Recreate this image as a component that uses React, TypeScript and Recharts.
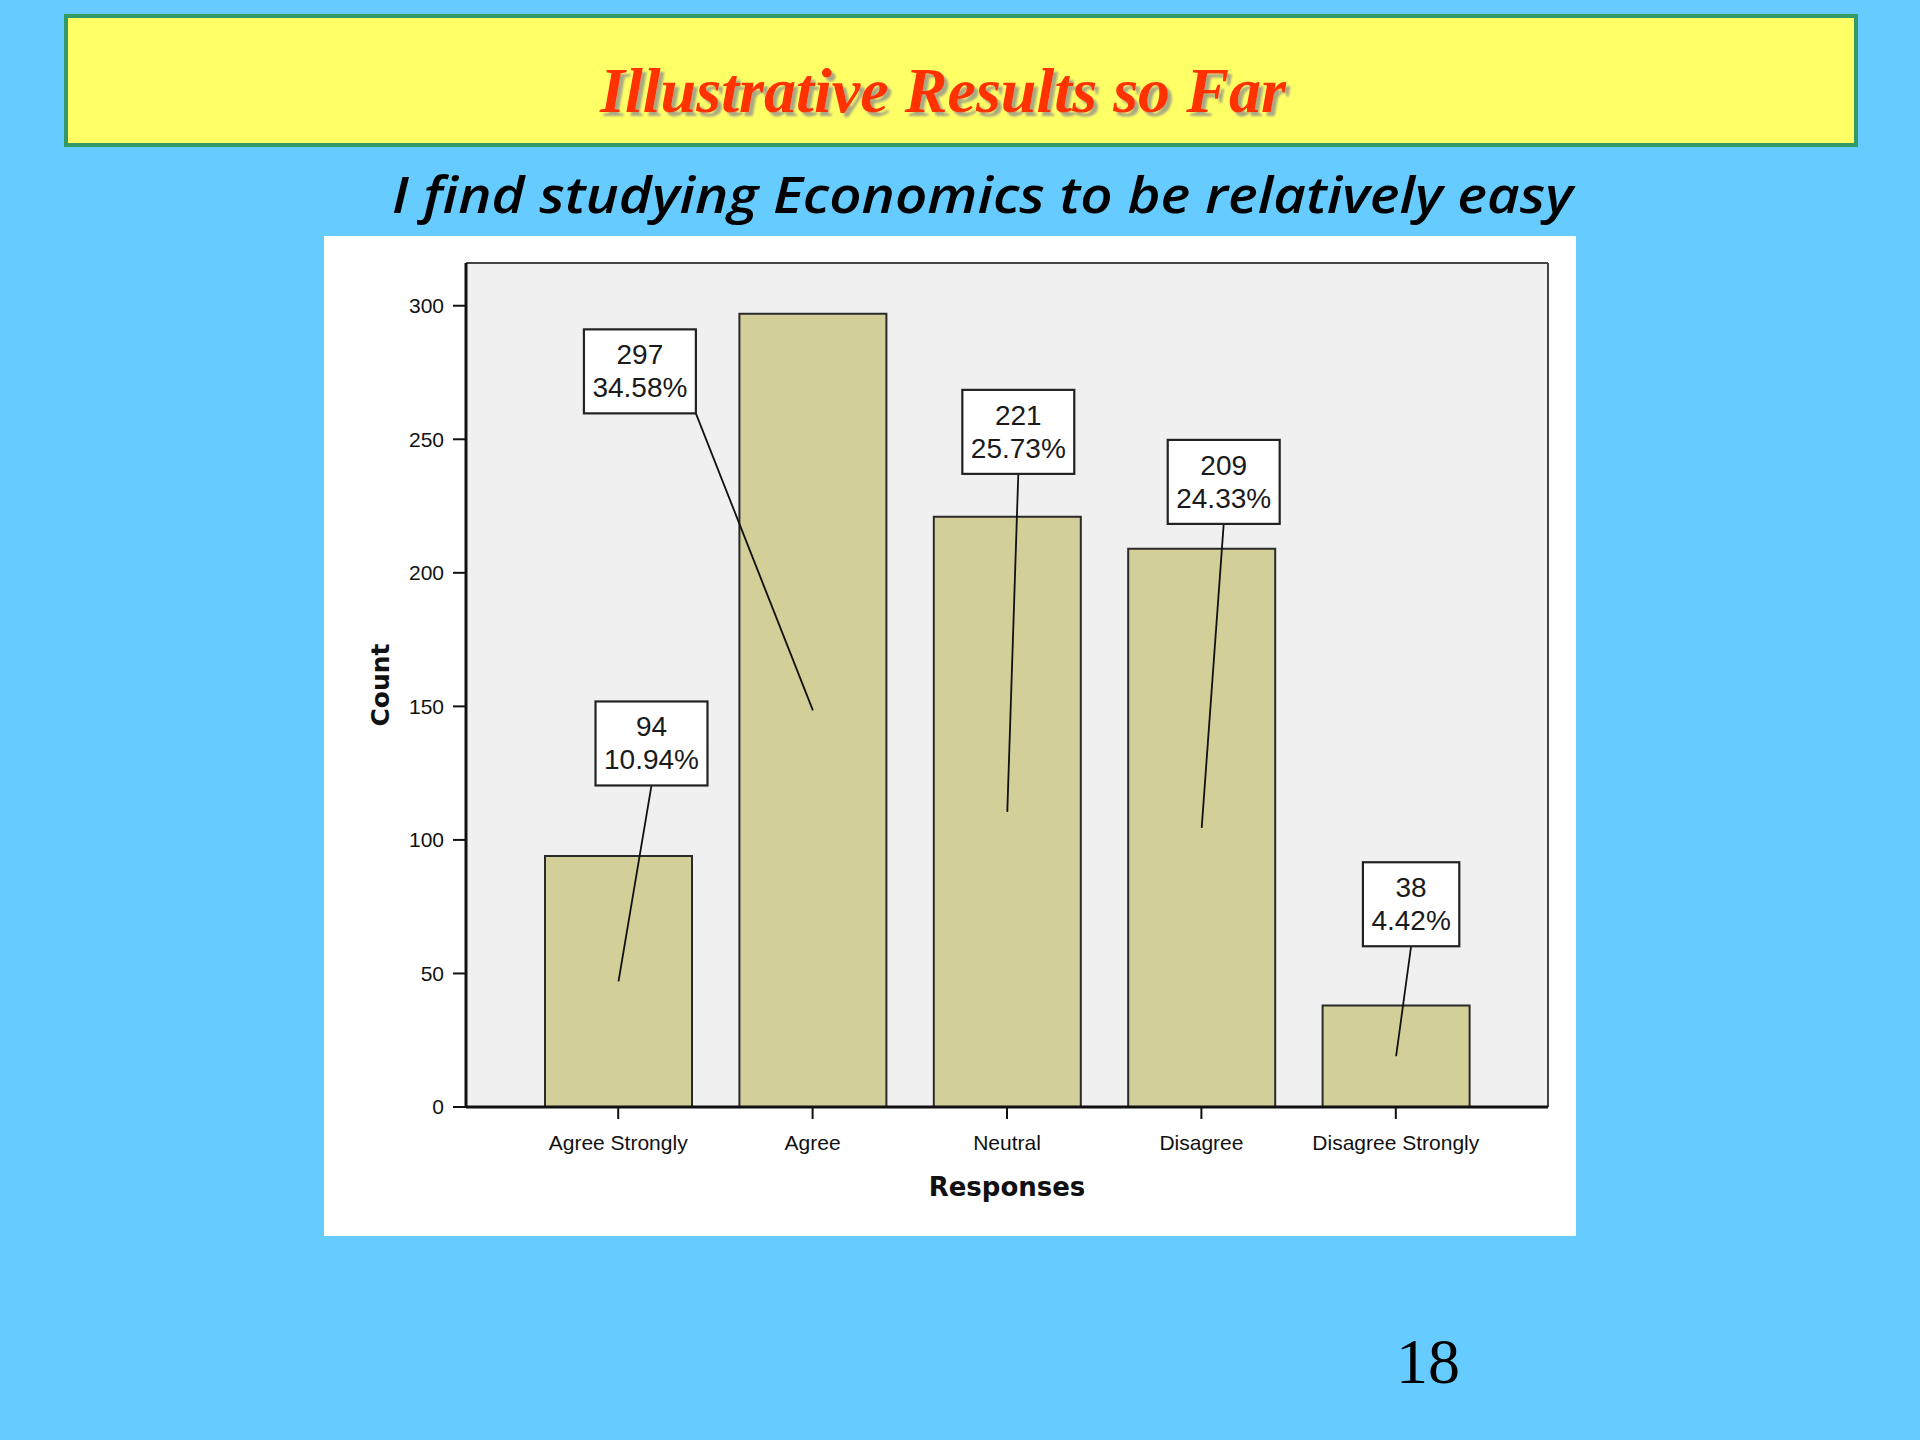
import React from "react";
import {
  BarChart,
  Bar,
  XAxis,
  YAxis,
  CartesianGrid,
  LabelList,
} from "recharts";

const categories = [
  "Agree Strongly",
  "Agree",
  "Neutral",
  "Disagree",
  "Disagree Strongly",
];
const counts = [94, 297, 221, 209, 38];
const percents = ["10.94%", "34.58%", "25.73%", "24.33%", "4.42%"];
const countTicks = [0, 50, 100, 150, 200, 250, 300];

const data = categories.map((name, i) => ({ name, count: counts[i] }));

// where each callout box sits, measured from the middle of its bar
const calloutOffsets = [
  { dx: 33, dy: -238, corner: false },
  { dx: -173, dy: -339, corner: true },
  { dx: 11, dy: -380, corner: false },
  { dx: 22, dy: -346, corner: false },
  { dx: 15, dy: -152, corner: false },
];

const LABEL_FONT = 28;
const Y_MAX = 316;

function textWidth(s: string): number {
  let w = 0;
  for (const ch of s) {
    if (ch === ".") w += 0.278;
    else if (ch === "%") w += 0.889;
    else w += 0.556;
  }
  return w * LABEL_FONT;
}

function Callout(props: any) {
  const { index } = props;
  const x = Number(props.x);
  const y = Number(props.y);
  const width = Number(props.width);
  const height = Number(props.height);
  const o = calloutOffsets[index];
  if (!o) return null;
  const mx = x + width / 2;
  const my = y + height / 2;
  const cx = mx + o.dx;
  const cy = my + o.dy;
  const lines = [String(counts[index]), percents[index]];
  const w = Math.max(...lines.map(textWidth)) + 17;
  const h = 84;
  const sx = o.corner ? cx + w / 2 : cx;
  const sy = cy + h / 2;
  const font = {
    fontFamily: "'Liberation Sans', Arial, sans-serif",
    fontSize: LABEL_FONT,
    fill: "#1a1a1a",
  };
  return (
    <g>
      <line x1={sx} y1={sy} x2={mx} y2={my} stroke="#111" strokeWidth={1.8} />
      <rect
        x={cx - w / 2}
        y={cy - h / 2}
        width={w}
        height={h}
        fill="#fff"
        stroke="#222"
        strokeWidth={2.2}
      />
      <text x={cx} y={cy - 7} textAnchor="middle" {...font}>
        {lines[0]}
      </text>
      <text x={cx} y={cy + 26} textAnchor="middle" {...font}>
        {lines[1]}
      </text>
    </g>
  );
}

const tickFont = {
  fontFamily: "'Liberation Sans', Arial, sans-serif",
  fontSize: 21,
  fill: "#111",
};

export default function App() {
  return (
    <div
      style={{
        position: "absolute",
        left: 0,
        top: 0,
        width: 1920,
        height: 1440,
        background: "#66ccff",
        overflow: "hidden",
      }}
    >
      <div
        style={{
          position: "absolute",
          left: 64,
          top: 14,
          width: 1794,
          height: 133,
          boxSizing: "border-box",
          background: "#ffff66",
          border: "4px solid #339966",
        }}
      />
      <svg
        width={1920}
        height={1440}
        style={{ position: "absolute", left: 0, top: 0 }}
      >
        <defs>
          <filter id="titleShadow" x="-5%" y="-20%" width="110%" height="150%">
            <feDropShadow
              dx={4}
              dy={4}
              stdDeviation={1.2}
              floodColor="#8c8c8c"
              floodOpacity={0.75}
            />
          </filter>
        </defs>
        <text
          x={943}
          y={112}
          textAnchor="middle"
          textLength={686}
          lengthAdjust="spacingAndGlyphs"
          fontFamily="'Liberation Serif', 'Times New Roman', serif"
          fontWeight="bold"
          fontStyle="italic"
          fontSize={64}
          fill="#ff3300"
          filter="url(#titleShadow)"
        >
          Illustrative Results so Far
        </text>
        <text
          x={392}
          y={213}
          textLength={1181}
          lengthAdjust="spacingAndGlyphs"
          fontFamily="'Open Sans', 'DejaVu Sans', sans-serif"
          fontStyle="italic"
          fontWeight={600}
          fontSize={50}
          fill="#000"
        >
          I find studying Economics to be relatively easy
        </text>
        <text
          x={1396}
          y={1383}
          fontFamily="'Liberation Serif', 'Times New Roman', serif"
          fontSize={64}
          fill="#000"
        >
          18
        </text>
      </svg>
      <div
        style={{
          position: "absolute",
          left: 324,
          top: 236,
          width: 1252,
          height: 1000,
          background: "#fff",
        }}
      >
        <BarChart
          width={1252}
          height={1000}
          data={data}
          margin={{ top: 27, right: 28, bottom: 0, left: 0 }}
        >
          <CartesianGrid
            fill="#f0f0f0"
            fillOpacity={1}
            stroke="#444"
            strokeWidth={2}
            horizontalCoordinatesGenerator={({ offset }: any) => [offset.top]}
            verticalCoordinatesGenerator={({ offset }: any) => [
              offset.left + offset.width,
            ]}
          />
          <XAxis
            dataKey="name"
            height={129}
            padding={{ left: 55, right: 55 }}
            tick={tickFont}
            tickSize={12}
            tickMargin={16}
            tickLine={{ stroke: "#111", strokeWidth: 2 }}
            axisLine={{ stroke: "#111", strokeWidth: 3 }}
            interval={0}
            label={(p: any) => {
              const vb = p.viewBox || {};
              return (
                <text
                  x={vb.x + vb.width / 2}
                  y={vb.y + 89}
                  textAnchor="middle"
                  fontFamily="'DejaVu Sans', Verdana, sans-serif"
                  fontWeight="bold"
                  fontSize={26}
                  fill="#111"
                >
                  Responses
                </text>
              );
            }}
          />
          <YAxis
            type="number"
            domain={[0, Y_MAX]}
            ticks={countTicks}
            width={142}
            tick={tickFont}
            tickSize={13}
            tickMargin={9}
            tickLine={{ stroke: "#111", strokeWidth: 2 }}
            axisLine={{ stroke: "#111", strokeWidth: 3 }}
            label={(p: any) => {
              const vb = p.viewBox || {};
              const cx = 65;
              const cy = vb.y + vb.height / 2;
              return (
                <text
                  x={cx}
                  y={cy}
                  transform={`rotate(-90 ${cx} ${cy})`}
                  textAnchor="middle"
                  fontFamily="'DejaVu Sans', Verdana, sans-serif"
                  fontWeight="bold"
                  fontSize={25}
                  fill="#111"
                >
                  Count
                </text>
              );
            }}
          />
          <Bar
            dataKey="count"
            barSize={147}
            fill="#d3cf98"
            stroke="#2a2a2a"
            strokeWidth={2}
            isAnimationActive={false}
          >
            <LabelList dataKey="count" content={Callout} />
          </Bar>
        </BarChart>
      </div>
    </div>
  );
}
